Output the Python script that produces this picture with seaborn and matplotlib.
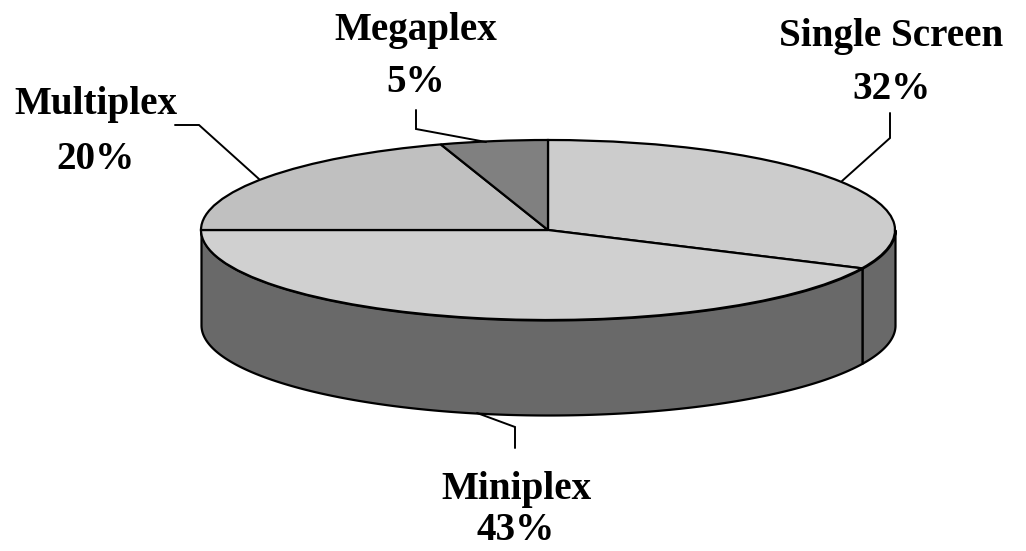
import numpy as np
import matplotlib
matplotlib.use("Agg")
import matplotlib.pyplot as plt
import seaborn as sns

# Screen-type shares, listed clockwise from twelve o'clock
categories = ["Single Screen", "Miniplex", "Multiplex", "Megaplex"]
shares = [32, 43, 20, 5]
top_colors = ["#cccccc", "#d0d0d0", "#c0c0c0", "#808080"]
wall_color = "#696969"

sns.set_theme(style="white")
plt.rcParams["font.family"] = ["Liberation Serif", "DejaVu Serif"]

W, H = 1026, 551
CX, CY, RX, RY, DEPTH = 548, 230, 347, 90, 95


def to_data(px, py):
    """Convert figure pixels (origin top-left) into pie units."""
    return (px - CX) / RX, (CY - py) / RY


fig = plt.figure(figsize=(W / 100, H / 100), dpi=100)
ax = fig.add_axes([0, 0, 1, 1])

# Top face of the disc; unequal axis scales squash the circle into an ellipse
ax.pie(
    shares,
    colors=top_colors,
    startangle=90,
    counterclock=False,
    radius=1,
    wedgeprops={"edgecolor": "black", "linewidth": 1.6, "zorder": 3},
)
ax.set_aspect("auto")
x0, y0 = to_data(0, H)
x1, y1 = to_data(W, 0)
ax.set_xlim(x0, x1)
ax.set_ylim(y0, y1)
ax.axis("off")

# Side wall: the part of each slice that lies on the front half of the rim
edges = np.concatenate([[0], np.cumsum(shares)]) / sum(shares) * 360
depth_units = DEPTH / RY
for start, end in zip(edges[:-1], edges[1:]):
    lo, hi = max(start, 90), min(end, 270)
    if hi <= lo:
        continue
    theta = np.radians(np.linspace(lo, hi, 200))
    xs, ys = np.sin(theta), np.cos(theta)
    ax.fill_between(xs, ys, ys - depth_units, color=wall_color,
                    edgecolor="black", linewidth=1.6, zorder=2)

# Category labels with elbow leader lines
labels = [
    ("Single Screen", "32%", 891, 37, 90, [(890, 113), (890, 138), (842, 181)]),
    ("Miniplex", "43%", 516, 490, 530, [(515, 448), (515, 427), (477, 413)]),
    ("Multiplex", "20%", 96, 105, 160, [(175, 125), (199, 125), (259, 179)]),
    ("Megaplex", "5%", 416, 31, 83, [(416, 110), (416, 129), (486, 142)]),
]
for name, pct, px, py_name, py_pct, leader in labels:
    for txt, py in ((name, py_name), (pct, py_pct)):
        tx, ty = to_data(px, py)
        ax.text(tx, ty, txt, ha="center", va="center", fontsize=28.2,
                fontweight="bold", color="black", zorder=5)
    lx, ly = zip(*(to_data(*p) for p in leader))
    ax.plot(lx, ly, color="black", linewidth=1.4, zorder=4, solid_joinstyle="miter")

fig.savefig("out.png", dpi=100, facecolor="white")
